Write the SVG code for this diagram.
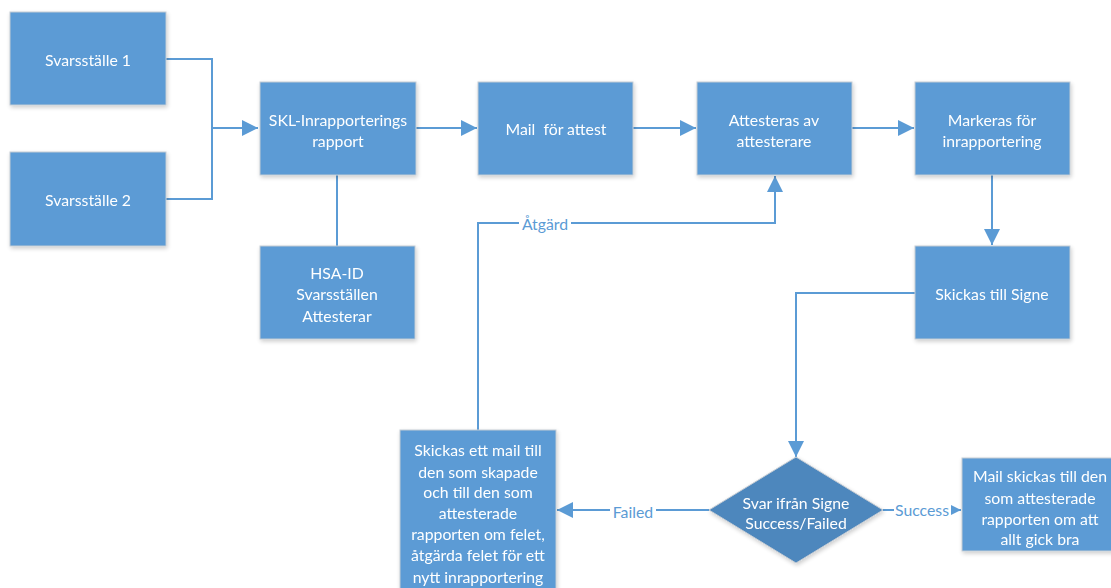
<svg xmlns="http://www.w3.org/2000/svg" width="1111" height="588" viewBox="0 0 1111 588">
<defs>
<style>
.box{fill:#5b9bd5;stroke:#c3cbd3;stroke-width:1}
.dia{fill:#4e87bd;stroke:#c3cbd3;stroke-width:1}
.t{font-family:Lato,"Liberation Sans",sans-serif;font-size:15.8px;fill:#ffffff;text-anchor:middle;dominant-baseline:central}
.c{fill:none;stroke:#5b9bd5;stroke-width:2}
.lbl{font-family:Lato,"Liberation Sans",sans-serif;font-size:15.8px;fill:#5b9bd5;text-anchor:middle;dominant-baseline:central}
.lblbg{fill:#ffffff}
</style>
<marker id="arrL" viewBox="0 0 10 10" refX="10" refY="5" markerWidth="20" markerHeight="16" markerUnits="userSpaceOnUse" orient="auto">
<path d="M0,0 L10,5 L0,10 z" fill="#5b9bd5"/>
</marker>
<filter id="sh" x="-10%" y="-10%" width="130%" height="130%">
<feGaussianBlur in="SourceAlpha" stdDeviation="2"/>
<feOffset dx="1" dy="2"/>
<feComponentTransfer><feFuncA type="linear" slope="0.2"/></feComponentTransfer>
<feMerge><feMergeNode/><feMergeNode in="SourceGraphic"/></feMerge>
</filter>
</defs>
<rect width="1111" height="588" fill="#ffffff"/>

<g id="connectors">
<path class="c" d="M166,59 H212 V199 H166"/>
<path class="c" d="M212,128 H258" marker-end="url(#arrL)"/>
<path class="c" d="M337,175 V246"/>
<path class="c" d="M416,128 H477" marker-end="url(#arrL)"/>
<path class="c" d="M633,128 H696" marker-end="url(#arrL)"/>
<path class="c" d="M852,128 H914" marker-end="url(#arrL)"/>
<path class="c" d="M992,175 V245" marker-end="url(#arrL)"/>
<path class="c" d="M915,293 H796 V457" marker-end="url(#arrL)"/>
<path class="c" d="M478,430 V223 H775 V176" marker-end="url(#arrL)"/>
<path class="c" d="M709,510 H557" marker-end="url(#arrL)"/>
<path class="c" d="M883,510 H961" marker-end="url(#arrL)"/>
<rect class="lblbg" x="519" y="214" width="52" height="18"/>
<text class="lbl" x="545" y="223">Åtgärd</text>
<rect class="lblbg" x="610" y="502" width="46" height="18"/>
<text class="lbl" x="633" y="511">Failed</text>
<rect class="lblbg" x="894" y="500" width="57" height="18"/>
<text class="lbl" x="922" y="509">Success</text>
</g>

<g id="svarsstalle1" filter="url(#sh)">
<rect class="box" x="10" y="12" width="156" height="93"/>
<text class="t" x="88" y="59">Svarsställe 1</text>
</g>
<g id="svarsstalle2" filter="url(#sh)">
<rect class="box" x="10" y="152" width="156" height="94"/>
<text class="t" x="88" y="199">Svarsställe 2</text>
</g>
<g id="skl" filter="url(#sh)">
<rect class="box" x="260" y="82" width="156" height="93"/>
<text class="t" x="338" y="119">SKL-Inrapporterings</text>
<text class="t" x="338" y="140">rapport</text>
</g>
<g id="hsaid" filter="url(#sh)">
<rect class="box" x="260" y="246" width="155" height="93"/>
<text class="t" x="337" y="272">HSA-ID</text>
<text class="t" x="337" y="293">Svarsställen</text>
<text class="t" x="337" y="315">Attesterar</text>
</g>
<g id="mail" filter="url(#sh)">
<rect class="box" x="478" y="82" width="155" height="93"/>
<text class="t" x="556" y="128" xml:space="preserve">Mail  för attest</text>
</g>
<g id="attesteras" filter="url(#sh)">
<rect class="box" x="697" y="82" width="155" height="93"/>
<text class="t" x="774" y="119">Attesteras av</text>
<text class="t" x="774" y="140">attesterare</text>
</g>
<g id="markeras" filter="url(#sh)">
<rect class="box" x="915" y="82" width="155" height="93"/>
<text class="t" x="992" y="119">Markeras för</text>
<text class="t" x="992" y="140">inrapportering</text>
</g>
<g id="skickas" filter="url(#sh)">
<rect class="box" x="915" y="246" width="155" height="93"/>
<text class="t" x="992" y="293">Skickas till Signe</text>
</g>
<g id="svar" filter="url(#sh)">
<path class="dia" d="M796,457 L883,510 L796,563 L709,510 z"/>
<text class="t" x="796" y="502">Svar ifrån Signe</text>
<text class="t" x="796" y="522">Success/Failed</text>
</g>
<g id="failedbox" filter="url(#sh)">
<rect class="box" x="400" y="430" width="156" height="170"/>
<text class="t" x="478" y="449">Skickas ett mail till</text>
<text class="t" x="478" y="471">den som skapade</text>
<text class="t" x="478" y="491">och till den som</text>
<text class="t" x="478" y="512">attesterade</text>
<text class="t" x="478" y="533">rapporten om felet,</text>
<text class="t" x="478" y="554">åtgärda felet för ett</text>
<text class="t" x="478" y="576">nytt inrapportering</text>
</g>
<g id="successbox" filter="url(#sh)">
<rect class="box" x="962" y="458" width="155" height="93"/>
<text class="t" x="1040" y="475">Mail skickas till den</text>
<text class="t" x="1040" y="497">som attesterade</text>
<text class="t" x="1040" y="518">rapporten om att</text>
<text class="t" x="1040" y="538">allt gick bra</text>
</g>
</svg>
